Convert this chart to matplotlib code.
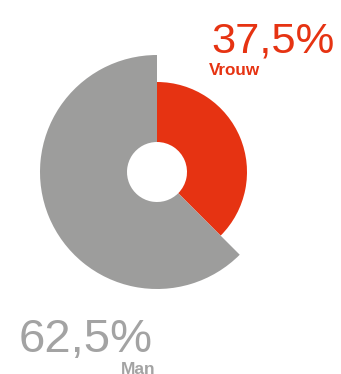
import matplotlib
matplotlib.use("Agg")
import matplotlib.pyplot as plt
from matplotlib.patches import Wedge

# Gender split
categories = ["Vrouw", "Man"]
shares = [37.5, 62.5]
value_labels = ["37,5%", "62,5%"]

colors = ["#E63312", "#9D9D9C"]
text_colors = ["#E63312", "#A3A3A3"]
outer_radii = [90, 117]
inner_radius = 30

W, H = 341, 374
fig = plt.figure(figsize=(W / 100, H / 100), dpi=100)
ax = fig.add_axes([0, 0, 1, 1])
ax.set_xlim(0, W)
ax.set_ylim(0, H)
ax.set_aspect("equal")
ax.axis("off")

cx, cy = 157, H - 172

# Slices start at 12 o'clock and run clockwise
start = 90.0
total = sum(shares)
for share, col, r in zip(shares, colors, outer_radii):
    sweep = share / total * 360.0
    ax.add_patch(Wedge((cx, cy), r, start - sweep, start, width=r - inner_radius,
                       facecolor=col, edgecolor="none", antialiased=True))
    start -= sweep

font = "Liberation Sans"
ax.text(334.5, H - 52, value_labels[0], color=text_colors[0], fontsize=31.3,
        family=font, ha="right", va="baseline")
ax.text(209, H - 74.5, categories[0], color=text_colors[0], fontsize=12.3,
        family=font, weight="bold", ha="left", va="baseline")
ax.text(19, H - 351.7, value_labels[1], color=text_colors[1], fontsize=34,
        family=font, ha="left", va="baseline")
ax.text(155, H - 373.8, categories[1], color=text_colors[1], fontsize=12.5,
        family=font, weight="bold", ha="right", va="baseline")

fig.savefig("out.png", dpi=100)
